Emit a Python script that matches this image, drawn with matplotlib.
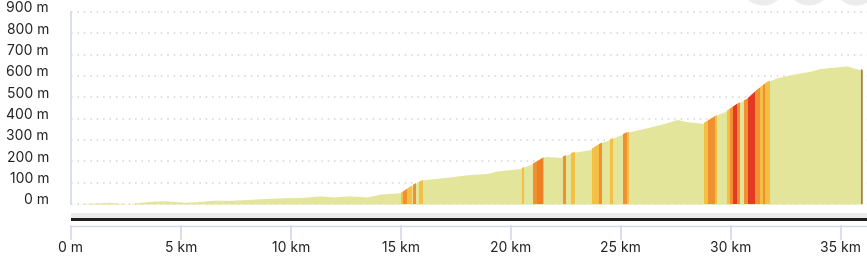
import matplotlib
matplotlib.use("Agg")
import matplotlib.pyplot as plt
from matplotlib.patches import Ellipse, Rectangle
from matplotlib.lines import Line2D

# ---- data ----
dist_km = [0.0, 0.64, 1.32, 1.77, 2.14, 2.59, 3.14, 3.82, 4.27, 4.73, 5.18, 5.87,
           6.55, 7.23, 8.14, 9.05, 9.96, 10.41, 11.33, 11.92, 12.69, 13.46, 14.05,
           14.96, 15.04, 15.64, 16.01, 17.24, 18.01, 18.92, 19.38, 20.42, 21.01,
           21.56, 22.24, 22.83, 23.6, 24.06, 24.65, 25.28, 26.19, 26.92, 27.56,
           28.01, 28.74, 29.38, 29.83, 30.29, 30.74, 31.2, 31.65, 32.11, 32.83,
           33.61, 34.06, 34.65, 35.29, 35.75, 36.0]
elev_m = [0, 2, 6, 8, 4, 0, 8, 14, 15, 12, 8, 12,
          18, 17, 22, 27, 30, 30, 38, 33, 38, 33, 46,
          53, 55, 96, 113, 127, 137, 143, 155, 166, 190,
          223, 218, 242, 254, 284, 309, 336, 357, 376, 396,
          386, 378, 418, 438, 470, 493, 536, 572, 592, 608,
          622, 635, 641, 647, 633, 630]

stripe_start = [15.00, 15.12, 15.29, 15.56, 15.83, 20.50, 21.01, 21.19, 21.46, 22.37, 22.74,
                23.68, 24.01, 24.51, 25.09, 25.27, 28.79, 28.97, 29.29, 29.85, 29.97,
                30.09, 30.30, 30.60, 30.79, 31.10, 31.33, 31.47, 31.56, 35.93]
stripe_end = [15.12, 15.29, 15.51, 15.69, 16.01, 20.60, 21.19, 21.46, 21.53, 22.51, 22.92,
              24.01, 24.13, 24.65, 25.27, 25.39, 28.97, 29.29, 29.40, 29.97, 30.09,
              30.30, 30.42, 30.79, 31.10, 31.33, 31.47, 31.56, 31.79, 36.0]
stripe_grade = ["yo", "o", "yo", "o", "yo", "yo", "o", "o2", "yo", "o", "yo",
                "yo", "o", "yo", "o", "yo", "yo", "o", "yo", "yo", "o",
                "r", "o", "o", "r", "o", "yo", "o", "yo", "b"]

y_ticks = [0, 100, 200, 300, 400, 500, 600, 700, 800, 900]
y_labels = ["0 m", "100 m", "200 m", "300 m", "400 m", "500 m", "600 m", "700 m", "800 m", "900 m"]
x_ticks = [0, 5, 10, 15, 20, 25, 30, 35]
x_labels = ["0 m", "5 km", "10 km", "15 km", "20 km", "25 km", "30 km", "35 km"]

grade_colors = {"yo": "#f3bf45", "o": "#f09030", "o2": "#ee8024", "r": "#e43a23", "b": "#a8784f"}
base_color = "#e3e59b"

W, H = 867, 257
fig = plt.figure(figsize=(W / 100, H / 100), dpi=100)
plt.rcParams['font.family'] = ['Inter', 'DejaVu Sans']

XMAX = 36.2
x0, x1 = 71, 867
y_top, y_bot = 12, 204
ax = fig.add_axes([x0 / W, (H - y_bot) / H, (x1 - x0) / W, (y_bot - y_top) / H])
ax.set_xlim(0, XMAX)
ax.set_ylim(0, 900)
ax.axis("off")

# dotted gridlines
for yv in y_ticks:
    ax.plot([0, XMAX], [yv, yv], color="#d6d6d6", lw=1.1, linestyle=(0, (1, 3.2)),
            zorder=0, clip_on=False)

# base profile
poly = ax.fill_between(dist_km, elev_m, 0, color=base_color, lw=0, zorder=1)

# grade stripes clipped to profile
for s, e, g in zip(stripe_start, stripe_end, stripe_grade):
    sp = ax.axvspan(s, e, color=grade_colors[g], lw=0, zorder=2)
    sp.set_clip_path(poly.get_paths()[0], ax.transData)

# left spine
fig.add_artist(Line2D([x0 / W, x0 / W], [(H - y_bot) / H, (H - y_top) / H],
                      color="#d3d9ec", lw=1.2))

# y labels
for yv, lab in zip(y_ticks, y_labels):
    ypx = y_bot - (y_bot - y_top) * yv / 900 - 3.5
    fig.text(49 / W, (H - ypx) / H, lab, ha="right", va="center", fontsize=10,
             color="#222222")

# x-axis track
fig.add_artist(Rectangle((x0 / W, (H - 217.5) / H), (x1 - x0) / W, 4.5 / H,
                         color="#ececec", lw=0))
fig.add_artist(Rectangle((x0 / W, (H - 220.5) / H), (x1 - x0) / W, 3 / H,
                         color="#1e1e1e", lw=0))
fig.add_artist(Line2D([x0 / W, x1 / W], [(H - 226) / H, (H - 226) / H],
                      color="#d3d9ec", lw=1.0))

px_per_km = (x1 - x0) / XMAX
for xv, lab in zip(x_ticks, x_labels):
    xpx = x0 + xv * px_per_km
    fig.add_artist(Line2D([xpx / W, xpx / W], [(H - 226) / H, (H - 239) / H],
                          color="#d3d9ec", lw=1.2))
    fig.text(xpx / W, (H - 248) / H, lab, ha="center", va="center", fontsize=10,
             color="#222222")

# faint UI circles at top-right
r = 22.5
for cx in [763, 809, 856]:
    fig.add_artist(Ellipse((cx / W, (H + 17) / H), 2 * r / W, 2 * r / H,
                           color="#ececec", lw=0, transform=fig.transFigure))

fig.savefig("out.png", dpi=100)
